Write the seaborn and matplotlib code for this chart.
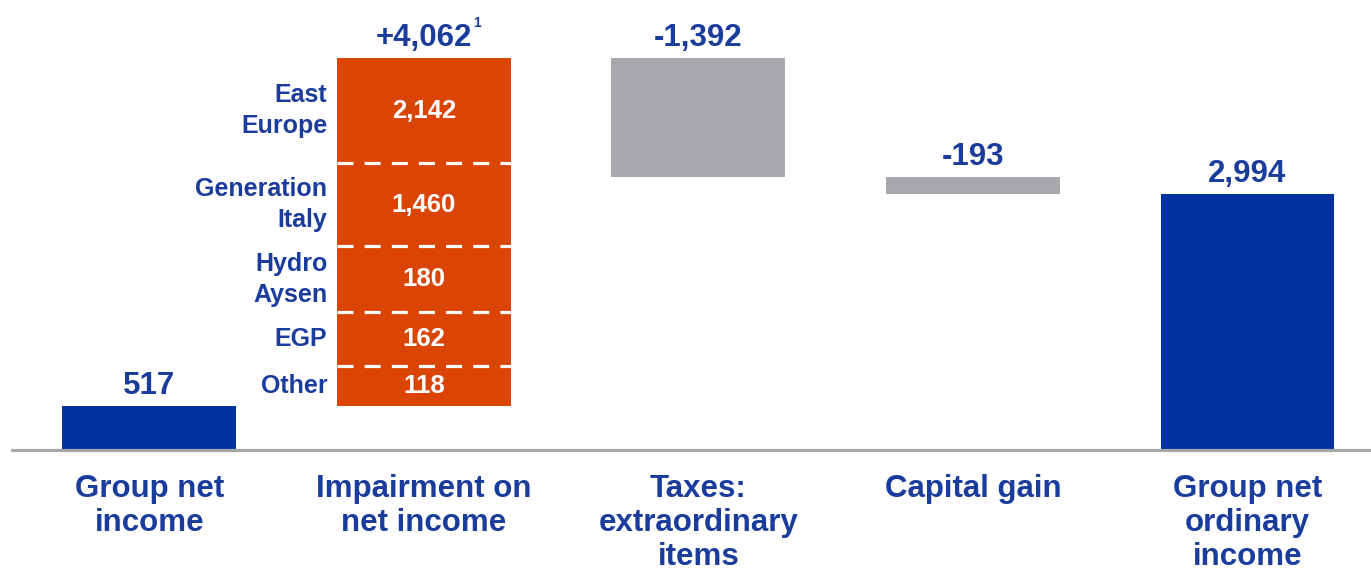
import numpy as np
import pandas as pd
import matplotlib
matplotlib.use("Agg")
import matplotlib.pyplot as plt
import seaborn as sns

# waterfall steps (EUR mn)
categories = ["Group net\nincome", "Impairment on\nnet income", "Taxes:\nextraordinary\nitems",
              "Capital gain", "Group net\nordinary\nincome"]
steps = [517, 4062, -1392, -193, 2994]
step_labels = ["517", "+4,062", "-1,392", "-193", "2,994"]
kinds = ["total", "delta", "delta", "delta", "total"]

# breakdown of the impairment bar, top to bottom
seg_names = ["East\nEurope", "Generation\nItaly", "Hydro\nAysen", "EGP", "Other"]
seg_values = [2142, 1460, 180, 162, 118]
# the boxes in the original are not drawn to scale: share of bar height per box
seg_box = [0.302, 0.239, 0.190, 0.155, 0.114]

BLUE = "#0033a0"
ORANGE = "#da4505"
GREY = "#a7a8ab"
TEXT = "#1a3c9c"
bar_colors = [BLUE, ORANGE, GREY, GREY, BLUE]

# work out bar bottoms / heights
bottoms, heights, tops = [], [], []
level = 0
for s, k in zip(steps, kinds):
    if k == "total":
        bottoms.append(0)
        heights.append(s)
        level = s
    else:
        if s >= 0:
            bottoms.append(level)
            heights.append(s)
        else:
            bottoms.append(level + s)
            heights.append(-s)
        level += s
    tops.append(bottoms[-1] + heights[-1])

df = pd.DataFrame({"cat": categories, "height": heights, "bottom": bottoms})

sns.set_style("white")
plt.rcParams["font.family"] = ["Liberation Sans", "DejaVu Sans"]
plt.rcParams["font.weight"] = "bold"

fig = plt.figure(figsize=(13.71, 5.75), dpi=100)
ax = fig.add_axes([12 / 1371, 125 / 575, 1 - 12 / 1371, 428 / 575])

sns.barplot(data=df, x="cat", y="height", bottom=df["bottom"].values, color=BLUE,
            width=0.633, order=categories, ax=ax, linewidth=0)
for p, c in zip(ax.patches, bar_colors):
    p.set_facecolor(c)

ax.set_xlim(-0.5, 4.45)
ax.set_ylim(0, 5000)
sns.despine(ax=ax, left=True, bottom=True)
ax.axhline(0, color="#a6a6a6", lw=2.3, zorder=5, clip_on=False)
ax.set_yticks([])
ax.set_xlabel("")
ax.set_ylabel("")
ax.set_xticks(range(len(categories)))
ax.set_xticklabels(categories, fontsize=22.5, fontweight="bold", color=TEXT, linespacing=1.18)
ax.tick_params(axis="x", length=0, pad=17)

# value labels above each bar
for i, (t, lab) in enumerate(zip(tops, step_labels)):
    ax.annotate(lab, (i, t), xytext=(0, 3.5), textcoords="offset points",
                ha="center", va="bottom", fontsize=22.5, fontweight="bold", color=TEXT)
# footnote marker
ax.annotate("1", (1, tops[1]), xytext=(38.5, 20), textcoords="offset points",
            ha="center", va="bottom", fontsize=10, fontweight="bold", color=TEXT)

# impairment breakdown: dashed separators, values inside, names to the left
bw = 0.633
x0, x1 = 1 - bw / 2, 1 + bw / 2
y_hi = tops[1]
for k, (name, val, share) in enumerate(zip(seg_names, seg_values, seg_box)):
    y_lo = y_hi - share * steps[1]
    mid = (y_hi + y_lo) / 2
    ax.text(1, mid, f"{val:,}", ha="center", va="center", fontsize=18.5,
            fontweight="bold", color="white")
    ax.text(x0 - 0.035, mid, name, ha="right", va="center", fontsize=18,
            fontweight="bold", color=TEXT, linespacing=1.35)
    if k < len(seg_names) - 1:
        ax.plot([x0, x1], [y_lo, y_lo], color="white", lw=2.3,
                linestyle=(0, (5, 3.5)), zorder=4)
    y_hi = y_lo

fig.savefig("out.png", dpi=100)
